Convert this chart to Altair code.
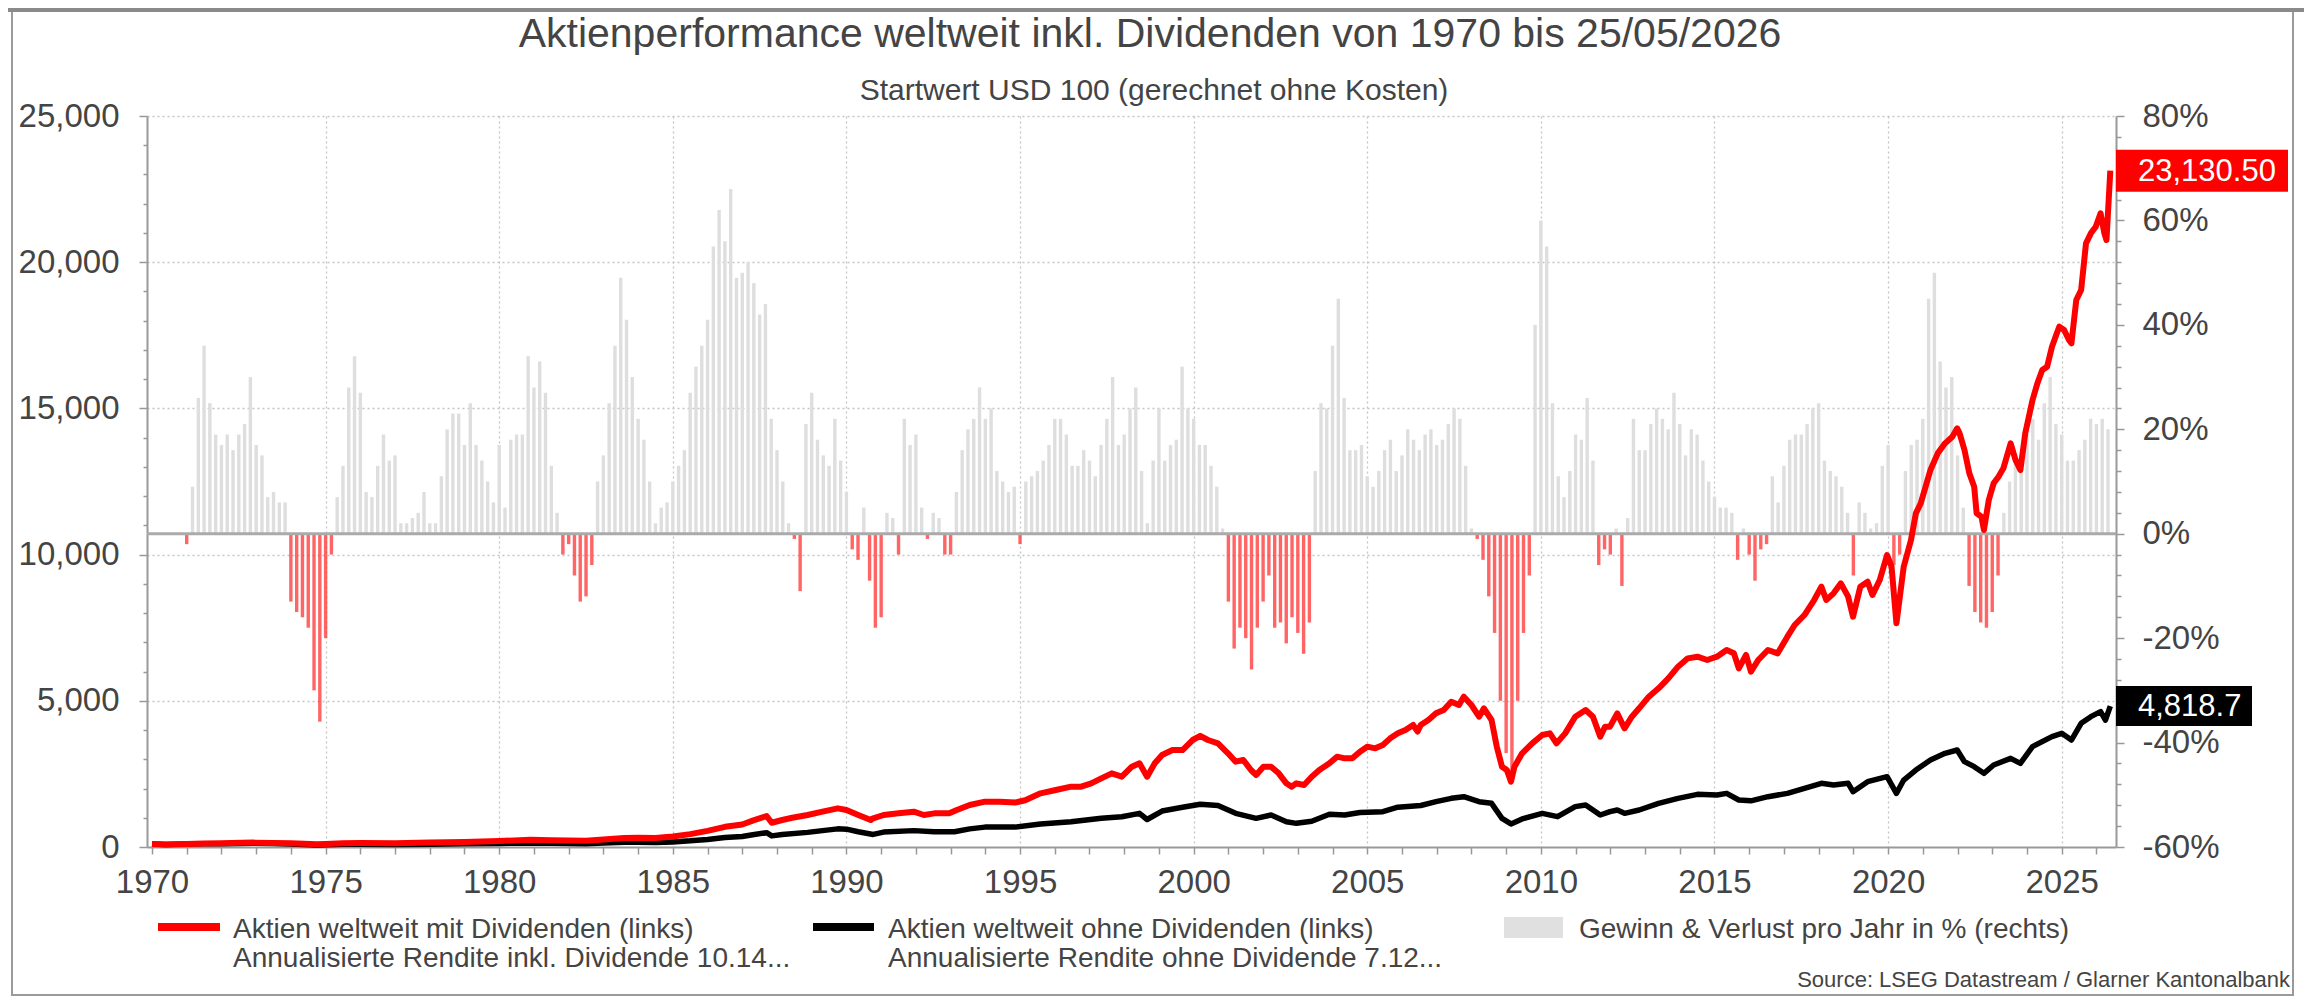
import altair as alt
import pandas as pd

FONT = "Liberation Sans, Arial, Helvetica, sans-serif"
TXT = "#444444"

# ---------------- data ----------------
# rolling 12-month return in %, six readings per year (every two months)
bar_years = list(range(1971, 2027))
bar_returns = [
    [-2, 9, 26, 36, 25, 19],      # 1971
    [17, 19, 16, 19, 21, 30],     # 1972
    [17, 15, 7, 8, 6, 6],         # 1973
    [-13, -15, -16, -18, -30, -36],  # 1974
    [-20, -4, 7, 13, 28, 34],     # 1975
    [27, 8, 7, 13, 19, 14],       # 1976
    [15, 2, 2, 3, 4, 8],          # 1977
    [2, 2, 11, 20, 23, 23],       # 1978
    [17, 25, 17, 14, 10, 6],      # 1979
    [17, 5, 18, 19, 19, 34],      # 1980
    [28, 33, 27, 13, 4, -4],      # 1981
    [-2, -8, -13, -12, -6, 10],   # 1982
    [15, 25, 36, 49, 41, 30],     # 1983
    [22, 18, 10, 2, 5, 6],        # 1984
    [10, 13, 16, 27, 32, 36],     # 1985
    [41, 55, 62, 56, 66, 49],     # 1986
    [50, 52, 48, 42, 44, 22],     # 1987
    [16, 10, 2, -1, -11, 21],     # 1988
    [27, 18, 15, 13, 22, 14],     # 1989
    [8, -3, -5, 5, -9, -18],      # 1990
    [-16, 4, 3, -4, 22, 17],      # 1991
    [19, 5, -1, 4, 3, -4],        # 1992
    [-4, 8, 16, 20, 22, 28],      # 1993
    [22, 24, 12, 10, 8, 9],       # 1994
    [-2, 10, 11, 12, 14, 17],     # 1995
    [22, 22, 19, 13, 13, 16],     # 1996
    [14, 11, 17, 22, 30, 17],     # 1997
    [19, 24, 28, 12, 2, 14],      # 1998
    [24, 14, 17, 18, 32, 24],     # 1999
    [22, 17, 17, 13, 9, 1],       # 2000
    [-13, -22, -18, -20, -26, -18],  # 2001
    [-13, -8, -18, -17, -21, -16],   # 2002
    [-19, -23, -17, 12, 25, 24],  # 2003
    [36, 45, 26, 16, 16, 17],     # 2004
    [11, 9, 12, 16, 18, 12],      # 2005
    [15, 20, 18, 16, 19, 20],     # 2006
    [17, 18, 21, 24, 22, 13],     # 2007
    [1, -1, -5, -12, -19, -32],   # 2008
    [-42, -47, -32, -19, -8, 40], # 2009
    [60, 55, 25, 11, 7, 12],      # 2010
    [19, 18, 26, 14, -6, -3],     # 2011
    [-4, 1, -10, 3, 22, 16],      # 2012
    [16, 21, 24, 22, 20, 27],     # 2013
    [21, 15, 20, 19, 14, 10],     # 2014
    [7, 5, 5, 4, -5, 1],          # 2015
    [-4, -9, -3, -2, 11, 6],      # 2016
    [13, 18, 19, 19, 21, 24],     # 2017
    [25, 14, 12, 11, 9, 4],       # 2018
    [-8, 6, 4, 1, 2, 13],         # 2019
    [17, -6, -4, 12, 17, 18],     # 2020
    [22, 45, 50, 33, 28, 30],     # 2021
    [15, 5, -10, -15, -17, -18],  # 2022
    [-15, -8, 4, 10, 15, 15],     # 2023
    [19, 22, 18, 25, 30, 21],     # 2024
    [19, 14, 14, 16, 18, 22],     # 2025
    [21, 22, 20],                 # 2026
]

# Aktien weltweit mit Dividenden (USD, start 100)
red_t = [1970.0, 1970.4, 1971.0, 1971.5, 1972.0, 1972.9, 1973.5, 1974.0, 1974.75, 1975.0,
         1975.5, 1976.0, 1977.0, 1978.0, 1979.0, 1980.0, 1980.9, 1981.5, 1982.5, 1983.0,
         1983.6, 1984.0, 1984.5, 1985.0, 1985.5, 1986.0, 1986.5, 1987.0, 1987.3, 1987.7,
         1987.85, 1988.15, 1988.44, 1988.88, 1989.31, 1989.75, 1990.0, 1990.34, 1990.7, 1990.77,
         1991.07, 1991.5, 1991.94, 1992.23, 1992.53, 1992.96, 1993.18, 1993.55, 1993.99, 1994.42,
         1994.86, 1995.15, 1995.59, 1996.03, 1996.47, 1996.76, 1997.05, 1997.34, 1997.64, 1997.93,
         1998.22, 1998.44, 1998.66, 1998.88, 1999.09, 1999.39, 1999.68, 1999.97, 2000.19, 2000.41,
         2000.7, 2000.99, 2001.21, 2001.43, 2001.65, 2001.8, 2002.01, 2002.23, 2002.45, 2002.67,
         2002.82, 2002.96, 2003.18, 2003.4, 2003.62, 2003.91, 2004.13, 2004.35, 2004.57, 2004.79,
         2005.0, 2005.23, 2005.45, 2005.66, 2005.88, 2006.1, 2006.32, 2006.45, 2006.54, 2006.76,
         2006.98, 2007.2, 2007.42, 2007.64, 2007.78, 2008.0, 2008.22, 2008.36, 2008.58, 2008.73,
         2008.88, 2009.02, 2009.14, 2009.24, 2009.46, 2009.75, 2010.04, 2010.26, 2010.45, 2010.7,
         2010.99, 2011.29, 2011.5, 2011.71, 2011.85, 2011.99, 2012.2, 2012.41, 2012.62, 2012.83,
         2013.11, 2013.39, 2013.67, 2013.95, 2014.23, 2014.51, 2014.79, 2015.07, 2015.35, 2015.56,
         2015.7, 2015.91, 2016.05, 2016.26, 2016.54, 2016.82, 2017.1, 2017.31, 2017.59, 2017.87,
         2018.08, 2018.22, 2018.43, 2018.64, 2018.85, 2018.99, 2019.2, 2019.41, 2019.55, 2019.76,
         2019.97, 2020.1, 2020.24, 2020.45, 2020.66, 2020.8, 2020.94, 2021.22, 2021.43, 2021.64,
         2021.85, 2021.99, 2022.06, 2022.2, 2022.34, 2022.48, 2022.55, 2022.69, 2022.76, 2022.9,
         2023.04, 2023.18, 2023.32, 2023.53, 2023.67, 2023.81, 2023.95, 2024.16, 2024.3, 2024.44,
         2024.58, 2024.72, 2024.86, 2024.93, 2025.07, 2025.21, 2025.28, 2025.42, 2025.56, 2025.7,
         2025.84, 2025.98, 2026.12, 2026.23, 2026.29, 2026.4]
red_v = [100, 85, 105, 118, 125, 150, 140, 130, 90, 105,
         125, 135, 130, 150, 175, 205, 245, 235, 215, 255,
         310, 320, 310, 360, 440, 550, 690, 770, 900, 1060,
         830, 923, 1000, 1094, 1208, 1322, 1265, 1094, 923, 980,
         1094, 1151, 1208, 1094, 1151, 1151, 1265, 1436, 1550, 1550,
         1520, 1600, 1835, 1949, 2063, 2063, 2177, 2348, 2519, 2405,
         2747, 2861, 2405, 2861, 3146, 3317, 3317, 3659, 3800, 3659,
         3545, 3203, 2918, 2975, 2633, 2462, 2747, 2747, 2519, 2177,
         2063, 2177, 2120, 2405, 2633, 2861, 3089, 3032, 3032, 3260,
         3431, 3374, 3488, 3716, 3887, 4001, 4172, 3950, 4172, 4343,
         4571, 4685, 4970, 4856, 5141, 4856, 4457, 4742, 4343, 3431,
         2747, 2633, 2234, 2747, 3203, 3545, 3830, 3887, 3545, 3887,
         4457, 4685, 4457, 3773, 4115, 4115, 4571, 4058, 4457, 4742,
         5141, 5426, 5768, 6167, 6452, 6509, 6395, 6509, 6737, 6623,
         6110, 6566, 5996, 6395, 6737, 6623, 7193, 7593, 7934, 8447,
         8903, 8447, 8675, 9017, 8561, 7877, 8903, 9074, 8618, 9131,
         9986, 9587, 7649, 9587, 10499, 11411, 11753, 12893, 13463, 13805,
         14033, 14318, 14147, 13577, 12779, 12323, 11411, 11297, 10841, 11867,
         12437, 12665, 12950, 13805, 13235, 12893, 14147, 15287, 15857, 16313,
         16427, 17111, 17567, 17795, 17681, 17339, 17225, 18707, 19049, 20645,
         20987, 21215, 21671, 20987, 20759, 23130.50]

# Aktien weltweit ohne Dividenden (USD, start 100)
black_t = [1970.0, 1970.4, 1971.0, 1971.5, 1972.0, 1972.9, 1973.5, 1974.0, 1974.75, 1975.0,
           1975.5, 1976.0, 1977.0, 1978.0, 1979.0, 1980.0, 1980.9, 1981.5, 1982.5, 1983.0,
           1983.6, 1984.0, 1984.5, 1985.0, 1985.5, 1986.0, 1986.5, 1987.0, 1987.3, 1987.7,
           1987.85, 1988.15, 1988.88, 1989.31, 1989.75, 1990.0, 1990.34, 1990.77, 1991.07, 1991.94,
           1992.53, 1993.11, 1993.55, 1993.99, 1994.86, 1995.59, 1996.47, 1997.34, 1997.93, 1998.44,
           1998.66, 1999.09, 1999.68, 2000.19, 2000.7, 2001.21, 2001.8, 2002.23, 2002.67, 2002.96,
           2003.4, 2003.91, 2004.35, 2004.79, 2005.45, 2005.88, 2006.54, 2006.98, 2007.42, 2007.78,
           2008.22, 2008.58, 2008.88, 2009.14, 2009.46, 2010.04, 2010.48, 2010.99, 2011.29, 2011.71,
           2011.99, 2012.2, 2012.41, 2012.83, 2013.39, 2013.95, 2014.51, 2015.07, 2015.35, 2015.7,
           2016.05, 2016.54, 2017.1, 2017.59, 2018.08, 2018.43, 2018.85, 2018.99, 2019.41, 2019.97,
           2020.24, 2020.45, 2020.8, 2021.22, 2021.64, 2021.99, 2022.2, 2022.48, 2022.76, 2023.04,
           2023.53, 2023.81, 2024.16, 2024.72, 2025.0, 2025.28, 2025.56, 2025.84, 2026.12, 2026.26,
           2026.4]
black_v = [100, 83, 100, 110, 115, 130, 118, 105, 68, 78,
           90, 95, 88, 97, 108, 120, 138, 130, 115, 135,
           160, 162, 152, 175, 210, 260, 325, 360, 420, 490,
           380, 430, 500, 560, 620, 610, 520, 430, 510, 560,
           520, 520, 620, 680, 680, 790, 860, 980, 1037, 1151,
           940, 1230, 1360, 1460, 1420, 1151, 980, 1094, 866, 809,
           880, 1120, 1094, 1180, 1208, 1360, 1420, 1550, 1664, 1721,
           1550, 1493, 980, 790, 960, 1151, 1037, 1380, 1436, 1094,
           1208, 1265, 1151, 1265, 1493, 1664, 1800, 1778, 1835, 1607,
           1580, 1721, 1835, 2006, 2177, 2120, 2177, 1892, 2234, 2405,
           1835, 2291, 2633, 2975, 3203, 3317, 2918, 2747, 2519, 2804,
           3032, 2861, 3431, 3773, 3887, 3659, 4229, 4457, 4628, 4343,
           4818.70]

last_labels = ["23,130.50", "4,818.7"]
last_values = [red_v[-1], black_v[-1]]

title_text = "Aktienperformance weltweit inkl. Dividenden von 1970 bis 25/05/2026"
subtitle_text = "Startwert USD 100 (gerechnet ohne Kosten)"
legend_red = ["Aktien weltweit mit Dividenden (links)", "Annualisierte Rendite inkl. Dividende 10.14..."]
legend_black = ["Aktien weltweit ohne Dividenden (links)", "Annualisierte Rendite ohne Dividende 7.12..."]
legend_bars = "Gewinn & Verlust pro Jahr in % (rechts)"
source_text = "Source: LSEG Datastream / Glarner Kantonalbank"

# ---------------- tables ----------------
rows = []
for yr, vals in zip(bar_years, bar_returns):
    for k, v in enumerate(vals):
        rows.append({"t": yr + k / 6.0, "pct": v})
bars_df = pd.DataFrame(rows)
red_df = pd.DataFrame({"t": red_t, "v": red_v})
black_df = pd.DataFrame({"t": black_t, "v": black_v})
lab_df = pd.DataFrame({"v": last_values, "lab": last_labels, "s": ["red", "black"]})

# ---------------- scales & axes ----------------
W, H = 1969, 731
x_scale = alt.Scale(domain=[1970, 2026.42], nice=False, zero=False)
left_scale = alt.Scale(domain=[0, 25000], nice=False, zero=False)
right_scale = alt.Scale(domain=[-60, 80], nice=False, zero=False)

x_axis = alt.Axis(
    title=None, values=list(range(1970, 2027)),
    labelExpr="datum.value % 5 === 0 ? toString(datum.value) : ''",
    labelFont=FONT, labelFontSize=33, labelColor=TXT, labelPadding=12,
    labelOverlap=False, labelFlush=False,
    tickSize=7, tickColor="#999999", tickWidth=1.5,
    domainColor="#999999", domainWidth=2,
    grid=True, gridColor="#c4c4c4", gridDash=[2, 3], gridWidth=1.3,
    gridOpacity={"condition": {"test": "datum.value % 5 === 0 && datum.value > 1970", "value": 1}, "value": 0},
)
left_axis = alt.Axis(
    title=None, orient="left", values=list(range(0, 25001, 1000)),
    labelExpr="datum.value % 5000 === 0 ? format(datum.value, ',') : ''",
    labelFont=FONT, labelFontSize=33, labelColor=TXT, labelPadding=20,
    labelOverlap=False, labelFlush=False,
    tickSize={"condition": {"test": "datum.value % 5000 === 0", "value": 8}, "value": 4},
    tickColor="#999999", tickWidth=1.5,
    domainColor="#999999", domainWidth=2,
    grid=True, gridColor="#c4c4c4", gridDash=[2, 3], gridWidth=1.3,
    gridOpacity={"condition": {"test": "datum.value % 5000 === 0 && datum.value > 0", "value": 1}, "value": 0},
)
right_axis = alt.Axis(
    title=None, orient="right", values=list(range(-60, 81, 4)),
    labelExpr="datum.value % 20 === 0 ? datum.value + '%' : ''",
    labelFont=FONT, labelFontSize=33, labelColor=TXT, labelPadding=18,
    labelOverlap=False, labelFlush=False,
    tickSize={"condition": {"test": "datum.value % 20 === 0", "value": 8}, "value": 5},
    tickColor="#999999", tickWidth=1.5,
    domainColor="#999999", domainWidth=2, grid=False,
)


def X(field):
    return alt.X(f"{field}:Q", scale=x_scale, axis=x_axis)


def YL(field):
    return alt.Y(f"{field}:Q", scale=left_scale, axis=left_axis)


def YR(field):
    return alt.Y(f"{field}:Q", scale=right_scale, axis=right_axis)


# ---------------- right-axis group: bars ----------------
bars = alt.Chart(bars_df).mark_bar(size=3.4).encode(
    x=X("t"), y=YR("pct"),
    color=alt.condition("datum.pct < 0", alt.value("#ff3a3a"), alt.value("#dedede")),
    opacity=alt.condition("datum.pct < 0", alt.value(0.78), alt.value(1.0)),
)
zero_rule = alt.Chart(pd.DataFrame({"z": [0]})).mark_rule(color="#aaaaaa", strokeWidth=3).encode(y=YR("z"))
right_group = alt.layer(bars, zero_rule)

# ---------------- left-axis group: lines + value tags ----------------
black_line = alt.Chart(black_df).mark_line(color="#000000", strokeWidth=5.5, strokeJoin="round").encode(
    x=X("t"), y=YL("v"))
red_line = alt.Chart(red_df).mark_line(color="#ff0000", strokeWidth=6, strokeJoin="round").encode(
    x=X("t"), y=YL("v"))

red_box = alt.Chart(lab_df).transform_filter("datum.s == 'red'").mark_rect(
    color="#ff0000", yOffset=-21, y2Offset=21).encode(
    x=alt.value(W), x2=alt.value(W + 172), y=YL("v"), y2=alt.Y2("v"))
black_box = alt.Chart(lab_df).transform_filter("datum.s == 'black'").mark_rect(
    color="#000000", yOffset=-20, y2Offset=20).encode(
    x=alt.value(W), x2=alt.value(W + 136), y=YL("v"), y2=alt.Y2("v"))
tag_text = alt.Chart(lab_df).mark_text(
    align="left", baseline="middle", font=FONT, fontSize=31, color="#ffffff", dy=1).encode(
    x=alt.value(W + 22), y=YL("v"), text="lab:N")
left_group = alt.layer(black_line, red_line, red_box, black_box, tag_text)


# ---------------- decoration: title, legend, source, frame ----------------
def txt(s, x, y, size, align="left", color=TXT):
    return alt.Chart(pd.DataFrame({"s": [s]})).mark_text(
        align=align, baseline="alphabetic", font=FONT, fontSize=size, color=color).encode(
        x=alt.value(x), y=alt.value(y), text="s:N")


one = pd.DataFrame({"a": [0]})
frame = alt.Chart(one).mark_rect(fillOpacity=0, stroke="#9a9a9a", strokeWidth=2).encode(
    x=alt.value(-135), x2=alt.value(2146), y=alt.value(-106), y2=alt.value(879))
top_bar = alt.Chart(one).mark_rule(color="#8a8a8a", strokeWidth=4).encode(
    x=alt.value(-139), x2=alt.value(2160), y=alt.value(-106))
sw_red = alt.Chart(one).mark_rule(color="#ff0000", strokeWidth=8).encode(
    x=alt.value(11), x2=alt.value(73), y=alt.value(811))
sw_black = alt.Chart(one).mark_rule(color="#000000", strokeWidth=8).encode(
    x=alt.value(666), x2=alt.value(727), y=alt.value(811))
sw_bars = alt.Chart(one).mark_rect(color="#e0e0e0").encode(
    x=alt.value(1357), x2=alt.value(1416), y=alt.value(801), y2=alt.value(822))

deco = [
    frame, top_bar,
    txt(title_text, 1003, -69, 41, "center"),
    txt(subtitle_text, 1007, -16, 30, "center"),
    sw_red, txt(legend_red[0], 86, 822, 28), txt(legend_red[1], 86, 851, 28),
    sw_black, txt(legend_black[0], 741, 822, 28), txt(legend_black[1], 741, 851, 28),
    sw_bars, txt(legend_bars, 1432, 822, 28),
    txt(source_text, 2143, 871, 22, "right"),
]

chart = alt.layer(right_group, left_group, *deco).resolve_scale(y="independent").properties(
    width=W, height=H,
    padding={"left": 139, "top": 108, "right": 188, "bottom": 149},
    autosize=alt.AutoSizeParams(type="none"),
).configure_view(strokeWidth=0)

chart.save("out.html", embed_options={"renderer": "svg", "actions": False})
